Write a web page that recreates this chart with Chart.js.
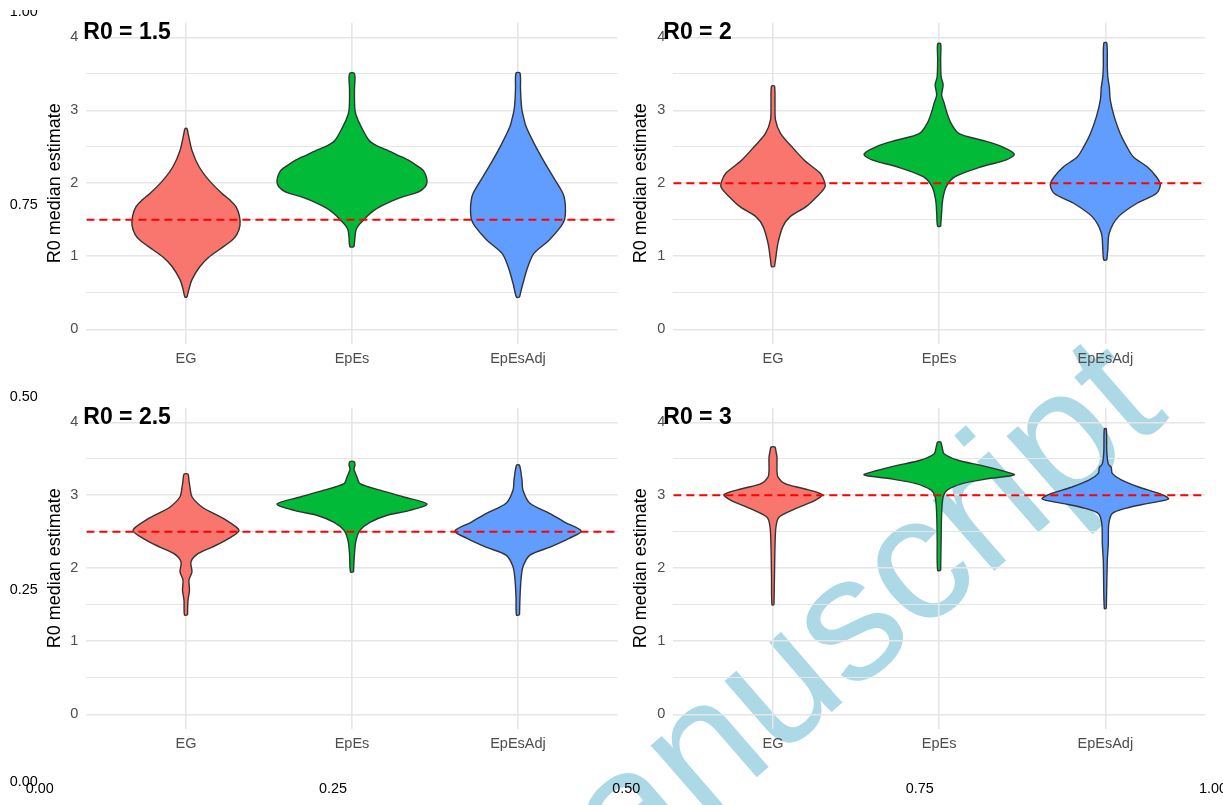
<!DOCTYPE html>
<html>
<head>
<meta charset="utf-8">
<script src="https://cdn.jsdelivr.net/npm/chart.js@4.4.1/dist/chart.umd.min.js"></script>
<style>
  html, body { margin: 0; padding: 0; background: #fff; }
  body { width: 1223px; height: 805px; overflow: hidden; position: relative; font-family: "Liberation Sans", Arial, sans-serif; }
  canvas, .tag, .stamp, .frame-box { position: absolute; }
  .frame-box { left: 0; top: 10px; width: 1223px; height: 795px; overflow: hidden; }
  .tag { font-weight: bold; font-size: 23px; line-height: 23px; color: #000; white-space: nowrap; }
  .stamp { left: 518px; top: 835.5px; font-size: 177px; line-height: 177px; color: #add8e6; white-space: nowrap; transform-origin: 0 150px; transform: rotate(-41deg); }
</style>
</head>
<body>
<div class="stamp">manuscript</div>
<div class="frame-box"><canvas id="frame" width="1240" height="805" style="left:0;top:-10px"></canvas></div>
<script>
const groups = ['EG', 'EpEs', 'EpEsAdj'];
const r0Values = [1.5, 2, 2.5, 3];
const yTicks = [0, 0.5, 1, 1.5, 2, 2.5, 3, 3.5, 4];
const frameTicks = [0, 0.25, 0.5, 0.75, 1];
const fills = ['#F8766D', '#00BA38', '#619CFF'];

// violin outlines: [R0 estimate, half width in category units], top to bottom
const eg15 = [[2.75,.006],[2.69,.012],[2.45,.036],[2.23,.078],[2.04,.139],[1.86,.217],[1.77,.265],[1.68,.301],[1.55,.322],[1.42,.325],[1.30,.307],[1.22,.277],[1.09,.199],[0.99,.139],[0.86,.084],[0.68,.036],[0.55,.018],[0.44,.006]];
const epes15 = [[3.51,.012],[3.45,.018],[3.30,.015],[3.14,.015],[3.00,.018],[2.90,.030],[2.78,.054],[2.59,.102],[2.52,.145],[2.46,.205],[2.39,.271],[2.32,.337],[2.25,.386],[2.18,.428],[2.10,.446],[2.02,.452],[1.95,.440],[1.88,.398],[1.82,.313],[1.77,.253],[1.70,.187],[1.63,.133],[1.56,.096],[1.50,.072],[1.43,.042],[1.36,.024],[1.26,.018],[1.13,.012]];
const adj15 = [[3.51,.012],[3.30,.015],[3.14,.018],[3.00,.024],[2.91,.033],[2.78,.048],[2.55,.096],[2.32,.151],[2.09,.211],[1.86,.271],[1.75,.283],[1.61,.286],[1.50,.280],[1.41,.259],[1.22,.187],[1.04,.096],[0.86,.060],[0.63,.030],[0.44,.009]];

const eg20 = [[3.33,.009],[3.10,.012],[2.87,.015],[2.68,.046],[2.50,.114],[2.32,.187],[2.23,.235],[2.14,.283],[2.04,.307],[1.95,.313],[1.82,.265],[1.68,.199],[1.54,.102],[1.41,.060],[1.18,.030],[0.95,.015],[0.86,.009]];
const epes20 = [[3.91,.009],[3.70,.009],[3.46,.012],[3.35,.024],[3.21,.015],[3.10,.030],[3.00,.042],[2.82,.072],[2.68,.120],[2.59,.259],[2.50,.380],[2.40,.452],[2.32,.404],[2.23,.259],[2.09,.096],[1.95,.042],[1.77,.021],[1.60,.015],[1.41,.009]];
const adj20 = [[3.92,.009],[3.60,.012],[3.46,.015],[3.32,.024],[3.14,.030],[2.91,.054],[2.68,.090],[2.50,.130],[2.36,.169],[2.23,.250],[2.09,.307],[1.98,.331],[1.86,.307],[1.73,.193],[1.54,.078],[1.32,.024],[1.09,.015],[0.95,.009]];

const eg25 = [[3.29,.012],[3.20,.018],[3.11,.024],[2.98,.036],[2.84,.096],[2.75,.169],[2.66,.241],[2.52,.319],[2.41,.259],[2.29,.157],[2.20,.072],[2.09,.030],[1.95,.036],[1.84,.018],[1.70,.021],[1.56,.012],[1.36,.009]];
const epes25 = [[3.46,.012],[3.42,.018],[3.36,.012],[3.30,.021],[3.25,.030],[3.16,.048],[3.07,.169],[2.98,.307],[2.88,.452],[2.79,.343],[2.73,.217],[2.63,.108],[2.52,.048],[2.38,.024],[2.20,.015],[1.95,.009]];
const adj25 = [[3.41,.009],[3.21,.024],[3.07,.030],[2.89,.072],[2.75,.193],[2.63,.283],[2.51,.380],[2.41,.307],[2.29,.193],[2.18,.072],[2.02,.030],[1.84,.018],[1.60,.012],[1.36,.009]];

const eg30 = [[3.66,.012],[3.60,.018],[3.52,.024],[3.34,.024],[3.25,.030],[3.16,.072],[3.09,.187],[3.01,.295],[2.93,.253],[2.82,.139],[2.70,.036],[2.57,.018],[2.29,.012],[1.90,.009],[1.50,.006]];
const epes30 = [[3.73,.009],[3.66,.018],[3.57,.030],[3.48,.114],[3.41,.253],[3.34,.373],[3.28,.452],[3.23,.301],[3.16,.139],[3.07,.048],[2.98,.024],[2.75,.015],[2.40,.012],[1.97,.009]];
const adj30 = [[3.91,.006],[3.60,.009],[3.43,.018],[3.38,.036],[3.30,.042],[3.21,.096],[3.11,.205],[3.02,.331],[2.95,.380],[2.89,.259],[2.82,.120],[2.75,.042],[2.61,.021],[2.34,.018],[2.10,.012],[1.45,.006]];

Chart.defaults.font.family = '"Liberation Sans", Arial, sans-serif';

// panel plot boxes [left, top, right, bottom] and label corners, in page pixels
const panels = [
  { r0: r0Values[0], shapes: [eg15, epes15, adj15], box: [86.4, 22.7, 617.6, 343.9], tag: [83.3, 19.7] },
  { r0: r0Values[1], shapes: [eg20, epes20, adj20], box: [673.3, 22.7, 1205, 343.9], tag: [663.3, 19.7] },
  { r0: r0Values[2], shapes: [eg25, epes25, adj25], box: [86.4, 407.7, 617.6, 728.9], tag: [83.3, 405.3] },
  { r0: r0Values[3], shapes: [eg30, epes30, adj30], box: [673.3, 407.7, 1205, 728.9], tag: [663.3, 405.3] }
];

// outer 0..1 frame behind the panels
new Chart(document.getElementById('frame'), {
  type: 'scatter',
  data: { datasets: [] },
  options: {
    responsive: false,
    animation: false,
    events: [],
    layout: { padding: { left: 0, top: 12, right: 27, bottom: 0 } },
    plugins: { legend: { display: false }, tooltip: { enabled: false } },
    scales: {
      x: {
        min: 0, max: 1, bounds: 'data',
        afterBuildTicks: s => { s.ticks = frameTicks.map(v => ({ value: v })); },
        afterFit: s => { s.height = 22.5; s.paddingLeft = 0; s.paddingRight = 0; },
        ticks: { callback: v => v.toFixed(2), color: '#000', font: { size: 14.4 }, padding: -2, maxRotation: 0, autoSkip: false },
        grid: { display: false, drawTicks: false },
        border: { display: false }
      },
      y: {
        min: 0, max: 1, bounds: 'data',
        afterBuildTicks: s => { s.ticks = frameTicks.map(v => ({ value: v })); },
        afterFit: s => { s.width = 39.7; s.paddingTop = 0; s.paddingBottom = 0; },
        ticks: { callback: v => v.toFixed(2), color: '#000', font: { size: 14.4 }, padding: 2, autoSkip: false },
        grid: { display: false, drawTicks: false },
        border: { display: false }
      }
    }
  }
});

function violinPoints(profile, pos) {
  const right = profile.slice().reverse().map(([y, w]) => ({ x: pos + w, y }));
  const left = profile.map(([y, w]) => ({ x: pos - w, y }));
  const pts = right.concat(left);
  pts.push(pts[0]);
  return pts;
}

function drawPanel(p) {
  const [L, T, R, B] = p.box;
  const left = Math.floor(L - 61), top = Math.floor(T - 12);
  const width = Math.ceil(R + 9) - left, height = Math.ceil(B + 31) - top;
  const cv = document.createElement('canvas');
  cv.width = width;
  cv.height = height;
  cv.style.left = left + 'px';
  cv.style.top = top + 'px';
  document.body.appendChild(cv);

  const axisW = L - left;
  // reference line first so it is painted over the violins
  const datasets = [{
    data: [{ x: -0.6, y: p.r0 }, { x: 2.6, y: p.r0 }],
    showLine: true, fill: false, pointRadius: 0,
    borderColor: '#ff0000', borderWidth: 2, borderDash: [8, 5]
  }];
  p.shapes.forEach((shape, i) => datasets.push({
    data: violinPoints(shape, i),
    showLine: true, fill: 'shape', pointRadius: 0, tension: 0.3,
    backgroundColor: fills[i], borderColor: '#333333', borderWidth: 1.4
  }));

  new Chart(cv, {
    type: 'scatter',
    data: { datasets },
    options: {
      responsive: false,
      animation: false,
      events: [],
      layout: { padding: { left: 0, top: T - top, right: width - (R - left), bottom: height - (B - top) - 30 } },
      plugins: { legend: { display: false }, tooltip: { enabled: false } },
      scales: {
        x: {
          min: -0.6, max: 2.6, bounds: 'data',
          afterBuildTicks: s => { s.ticks = groups.map((g, i) => ({ value: i })); },
          afterFit: s => { s.height = 30; s.paddingLeft = 0; s.paddingRight = 0; },
          ticks: { callback: v => groups[v], color: '#4d4d4d', font: { size: 14.5 }, padding: 6, maxRotation: 0, autoSkip: false },
          grid: { color: '#e6e6e6', lineWidth: 1.6, drawTicks: false },
          border: { display: false }
        },
        y: {
          min: -0.2, max: 4.2, bounds: 'data',
          afterBuildTicks: s => { s.ticks = yTicks.map(v => ({ value: v })); },
          afterFit: s => { s.width = axisW; s.paddingTop = 0; s.paddingBottom = 0; },
          ticks: { callback: v => (v % 1 === 0 ? String(v) : ''), color: '#4d4d4d', font: { size: 14.5 }, padding: 8, autoSkip: false },
          grid: { color: '#e6e6e6', lineWidth: c => (c.tick && c.tick.value % 1 === 0 ? 1.6 : 1.1), drawTicks: false },
          border: { display: false },
          title: { display: true, text: 'R0 median estimate', color: '#000', font: { size: 18 }, padding: { top: axisW - 31.8 - 10.8, bottom: 0 } }
        }
      }
    }
  });

  const tag = document.createElement('div');
  tag.className = 'tag';
  tag.style.left = p.tag[0] + 'px';
  tag.style.top = p.tag[1] + 'px';
  tag.textContent = 'R0 = ' + p.r0;
  document.body.appendChild(tag);
}

panels.forEach(drawPanel);
</script>
</body>
</html>
